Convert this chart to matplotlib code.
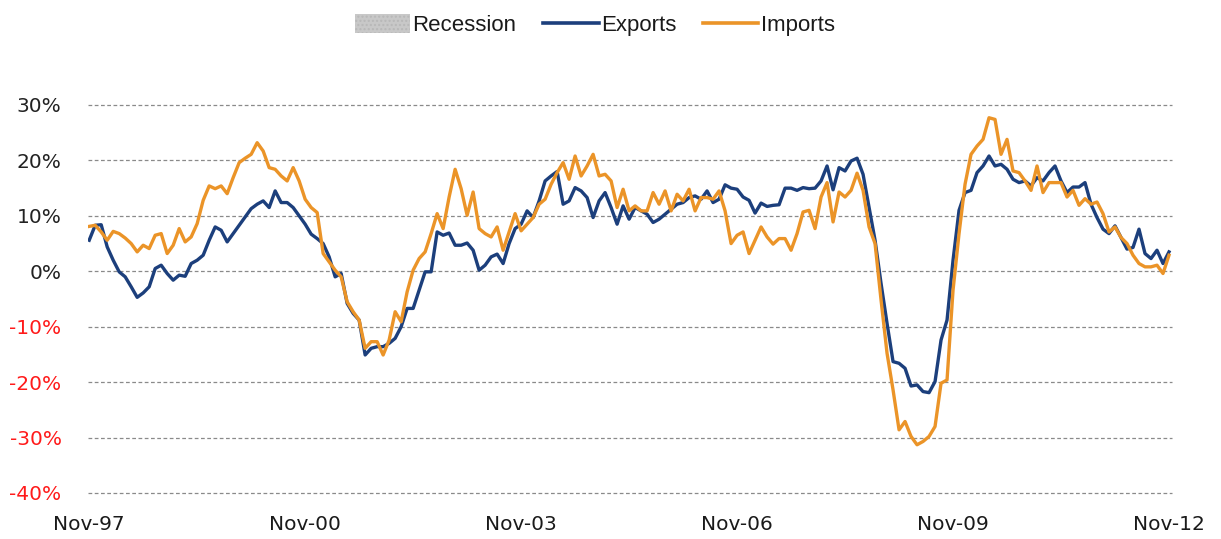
import matplotlib
matplotlib.use("Agg")
import matplotlib.pyplot as plt
from matplotlib.patches import Patch
from matplotlib.lines import Line2D
import numpy as np

# monthly y/y growth, Nov-97 .. Nov-12
exports = [5.6, 8.3, 8.4, 4.4, 2.0, -0.1, -1.0, -2.8, -4.7, -3.9, -2.8, 0.5, 1.1, -0.4, -1.6, -0.7, -0.9, 1.4, 2.0, 2.9,
           5.6, 8.0, 7.4, 5.3, 6.8, 8.3, 9.8, 11.3,
           12.1, 12.7, 11.5, 14.5, 12.4, 12.4, 11.5, 10.0, 8.5, 6.7, 5.9, 5.0, 2.6, -1.0, -0.4,
           -5.8, -7.6, -8.8, -15.1, -13.9, -13.6, -13.6, -13.0, -12.1, -10.0, -6.7, -6.7, -3.4, -0.1, -0.1, 7.1,
           6.5, 6.9, 4.7, 4.7, 5.1, 3.8, 0.2, 1.1, 2.6, 3.1, 1.4, 5.0, 7.7,
           8.5,
           10.9, 9.7, 12.7, 16.3, 17.2, 18.0, 12.1, 12.7, 15.1, 14.5, 13.3, 9.7, 12.7, 14.2, 11.5, 8.5, 11.8,
           9.4, 11.5, 10.9, 10.3, 8.8, 9.4, 10.3, 11.2, 12.1, 12.4, 13.3, 13.6, 13.0, 14.5, 12.4, 13.0, 15.6,
           15.0, 14.8, 13.4, 12.8, 10.5, 12.3, 11.7, 11.9, 12.0, 15.0, 15.0, 14.6, 15.1, 14.9, 15.0, 16.3, 19.0,
           14.7, 18.7, 18.1, 19.9, 20.4, 17.5, 11.6, 5.6, -2.2, -9.4, -16.3, -16.6, -17.5, -20.7, -20.5, -21.7,
           -21.9, -19.9, -12.4, -8.8,
           2.0, 11.0, 14.2, 14.6, 17.8, 19.0, 20.8, 19.0, 19.3, 18.4, 16.6, 16.0, 16.3, 15.4, 16.9, 16.3, 17.8,
           19.0, 16.3, 14.2, 15.2, 15.2, 16.0, 12.1, 9.7, 7.6, 6.8, 8.2, 6.1, 4.0, 4.3, 7.6, 3.2, 2.3, 3.8, 1.4, 3.5]

imports = [8.1, 8.3, 7.1, 5.6, 7.2, 6.8, 6.0, 5.0, 3.5, 4.7, 4.1, 6.5, 6.8, 3.2, 4.7, 7.7, 5.3, 6.2, 8.6, 12.8,
           15.4, 14.9, 15.4, 14.0, 16.9, 19.6, 20.4, 21.1,
           23.2, 21.7, 18.7, 18.4, 17.2, 16.3, 18.7, 16.3, 13.0, 11.5, 10.6, 3.2, 1.7, 0.2, -1.0,
           -5.5, -7.3, -8.8, -13.9, -12.7, -12.7, -15.1, -12.4, -7.3, -9.1, -3.7, 0.2, 2.3, 3.5, 6.8, 10.4,
           7.7, 13.4, 18.4, 14.9, 10.1, 14.3, 7.7, 6.8, 6.2, 8.0, 3.8, 7.1, 10.4,
           7.3,
           8.5, 9.7, 12.1, 13.0, 15.7, 17.8, 19.6, 16.6, 20.8, 17.2, 19.0, 21.1, 17.2, 17.5, 16.3, 11.5, 14.8,
           10.9, 11.8, 10.9, 10.9, 14.2, 12.1, 14.5, 10.9, 13.9, 12.7, 14.8, 10.9, 13.3, 13.3, 13.0, 14.5, 10.9,
           5.0, 6.5, 7.1, 3.2, 5.6, 8.0, 6.2, 4.9, 5.9, 5.9, 3.8, 6.8, 10.7, 11.0, 7.7, 13.4, 16.0,
           8.9, 14.3, 13.4, 14.6, 17.7, 14.6, 8.0, 5.0, -5.2, -14.8, -21.4, -28.6, -27.1, -29.8, -31.3, -30.7,
           -29.8, -28.0, -20.2, -19.6,
           -3.4, 6.8, 15.7, 21.1, 22.6, 23.8, 27.7, 27.4, 21.1, 23.8, 18.1, 17.8, 16.3, 14.6, 19.0, 14.2, 16.0,
           16.0, 16.0, 13.4, 14.6, 11.9, 13.1, 12.1, 12.5, 10.4, 7.1, 8.0, 6.1, 5.0, 2.9, 1.4, 0.8, 0.8, 1.1, -0.4, 2.9]

x_labels = ["Nov-97", "Nov-00", "Nov-03", "Nov-06", "Nov-09", "Nov-12"]
y_ticks = [30, 20, 10, 0, -10, -20, -30, -40]

BLUE = "#1c3f7c"
ORANGE = "#eb9428"

fig = plt.figure(figsize=(12.21, 5.39), dpi=100)
ax = fig.add_axes([88 / 1221, 1 - 493 / 539, (1172 - 88) / 1221, (493 - 105) / 539])

months = np.arange(len(exports))
ax.plot(months, exports, color=BLUE, lw=2.4, solid_joinstyle="round")
ax.plot(months, imports, color=ORANGE, lw=2.4, solid_joinstyle="round")

ax.set_xlim(-0.2, 180.5)
ax.set_ylim(-40, 30)
ax.set_xticks(np.arange(0, 181, 36))
ax.set_xticklabels(x_labels)
ax.set_yticks(y_ticks)
ax.set_yticklabels(["%d%%" % v for v in y_ticks])
for lab, v in zip(ax.get_yticklabels(), y_ticks):
    lab.set_color("#ff1a1a" if v < 0 else "#222222")
for lab in ax.get_xticklabels():
    lab.set_color("#1a1a1a")

ax.tick_params(axis="both", length=0, labelsize=14.5)
ax.tick_params(axis="x", pad=16)
ax.tick_params(axis="y", pad=19)
for s in ax.spines.values():
    s.set_visible(False)
ax.grid(axis="y", color="#8a8a8a", lw=0.9, linestyle=(0, (3, 2)))
ax.set_axisbelow(True)
# keep the -40% / 30% lines from being clipped at the axes edge
for gl in ax.get_ygridlines():
    gl.set_clip_on(False)

# legend (recession entry has no shading inside this window)
handles = [Patch(facecolor="#c8c8c8", edgecolor="#b8b8b8", hatch="....", lw=0, label="Recession"),
           Line2D([], [], color=BLUE, lw=2.6, label="Exports"),
           Line2D([], [], color=ORANGE, lw=2.6, label="Imports")]
leg = fig.legend(handles=handles, loc="center", bbox_to_anchor=(0.487, 0.953), ncol=3, frameon=False,
                 handlelength=2.5, handleheight=0.9, handletextpad=0.1, columnspacing=1.2,
                 prop={"family": ["Liberation Sans", "DejaVu Sans"], "size": 16})
for t in leg.get_texts():
    t.set_color("#1a1a1a")

fig.savefig("out.png", dpi=100)
